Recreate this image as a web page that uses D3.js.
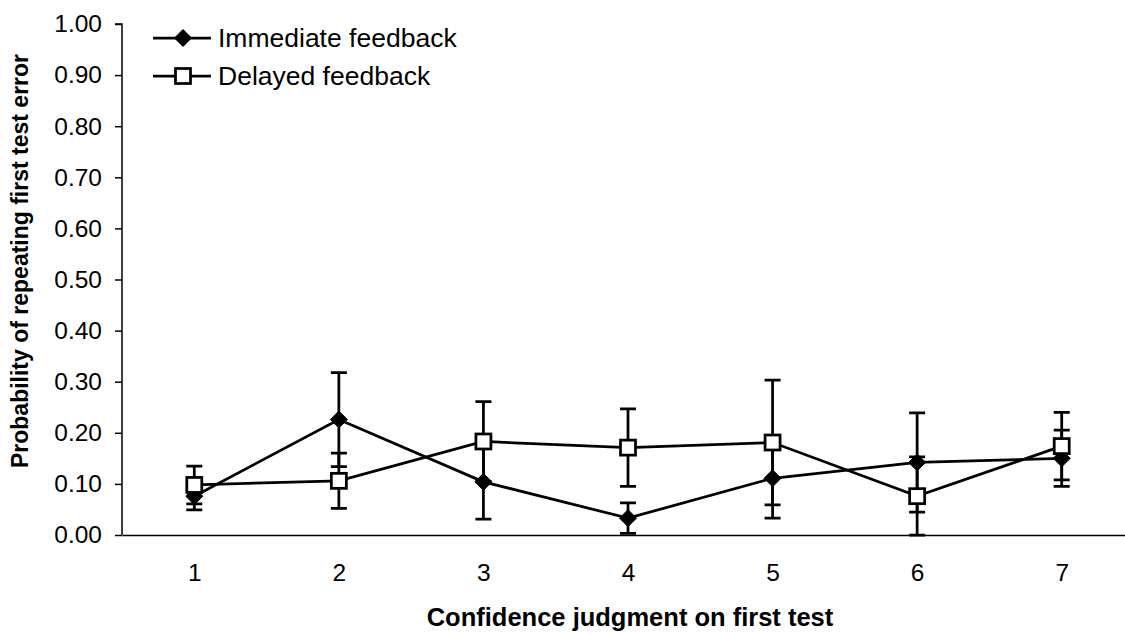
<!DOCTYPE html>
<html>
<head>
<meta charset="utf-8">
<script src="https://cdn.jsdelivr.net/npm/d3@7"></script>
<style>
  body { margin: 0; background: #fff; }
  svg text { font-family: "Liberation Sans", Arial, sans-serif; fill: #000; }
</style>
</head>
<body>
<div id="chart"></div>
<script>
const categories = [1, 2, 3, 4, 5, 6, 7];
const yTicks = [0, 0.1, 0.2, 0.3, 0.4, 0.5, 0.6, 0.7, 0.8, 0.9, 1.0];

const immediateValues = [0.076, 0.226, 0.104, 0.033, 0.111, 0.142, 0.150];
const immediateErrors = [0.027, 0.092, 0.073, 0.030, 0.078, 0.097, 0.055];

const delayedValues = [0.098, 0.106, 0.183, 0.171, 0.181, 0.076, 0.174];
const delayedErrors = [0.037, 0.054, 0.078, 0.076, 0.122, 0.077, 0.066];

const seriesNames = ["Immediate feedback", "Delayed feedback"];

const w = 1125;
const h = 634;
const m = { top: 24, right: -9, bottom: 99, left: 122 };

const svg = d3
  .select("#chart")
  .append("svg")
  .attr("width", w)
  .attr("height", h);

const x = d3
  .scalePoint()
  .domain(categories)
  .range([m.left, w - m.right])
  .padding(0.5);

const y = d3
  .scaleLinear()
  .domain([0, 1])
  .range([h - m.bottom, m.top]);

const series = [
  { name: seriesNames[0], values: immediateValues, errors: immediateErrors, marker: "diamond" },
  { name: seriesNames[1], values: delayedValues, errors: delayedErrors, marker: "square" },
];

// axes
const yaxis = d3
  .axisLeft(y)
  .tickValues(yTicks)
  .tickSize(7)
  .tickPadding(13)
  .tickFormat(d3.format(".2f"));

svg
  .append("g")
  .attr("transform", `translate(${m.left},0)`)
  .call(yaxis)
  .call((g) => g.select(".domain").attr("d", `M-7,${y(1)}H0V${y(0)}`))
  .call((g) => g.selectAll("line, path").attr("stroke", "#000").attr("stroke-width", 1.5))
  .call((g) => g.selectAll("text").attr("font-size", 24.5).attr("font-family", null));

const xaxis = d3.axisBottom(x).tickSize(0).tickPadding(29);

svg
  .append("g")
  .attr("transform", `translate(0,${y(0)})`)
  .call(xaxis)
  .call((g) => g.select(".domain").attr("stroke", "#000").attr("stroke-width", 1.5))
  .call((g) => g.selectAll("text").attr("font-size", 24.5).attr("font-family", null));

// axis titles
svg
  .append("text")
  .attr("transform", "translate(20,261) rotate(-90)")
  .attr("text-anchor", "middle")
  .attr("dy", "0.35em")
  .attr("font-size", 23)
  .attr("font-weight", "bold")
  .text("Probability of repeating first test error");

svg
  .append("text")
  .attr("x", 630)
  .attr("y", 626)
  .attr("text-anchor", "middle")
  .attr("font-size", 25.5)
  .attr("font-weight", "bold")
  .text("Confidence judgment on first test");

function drawMarker(g, type, cx, cy) {
  if (type === "diamond") {
    g.append("path")
      .attr("d", `M${cx},${cy - 8.5}L${cx + 8.5},${cy}L${cx},${cy + 8.5}L${cx - 8.5},${cy}Z`)
      .attr("fill", "#000")
      .attr("stroke", "#000")
      .attr("stroke-width", 1);
  } else {
    g.append("rect")
      .attr("x", cx - 7.5)
      .attr("y", cy - 7.5)
      .attr("width", 15)
      .attr("height", 15)
      .attr("fill", "#fff")
      .attr("stroke", "#000")
      .attr("stroke-width", 2.75);
  }
}

const line = d3
  .line()
  .x(function (d, i) {
    return x(categories[i]);
  })
  .y(function (d) {
    return y(d);
  });

series.forEach(function (s) {
  const g = svg.append("g");

  // error bars
  s.values.forEach(function (v, i) {
    const cx = x(categories[i]);
    const hi = y(v + s.errors[i]);
    const lo = y(Math.max(0, v - s.errors[i]));
    g.append("path")
      .attr("d", `M${cx},${hi}V${lo}M${cx - 8},${hi}H${cx + 8}M${cx - 8},${lo}H${cx + 8}`)
      .attr("fill", "none")
      .attr("stroke", "#000")
      .attr("stroke-width", 2.75);
  });

  g.append("path")
    .datum(s.values)
    .attr("fill", "none")
    .attr("stroke", "#000")
    .attr("stroke-width", 2.75)
    .attr("d", line);

  s.values.forEach(function (v, i) {
    drawMarker(g, s.marker, x(categories[i]), y(v));
  });
});

// legend
const legend = svg.append("g");
series.forEach(function (s, i) {
  const ly = 38 + i * 38;
  legend
    .append("line")
    .attr("x1", 153)
    .attr("x2", 211)
    .attr("y1", ly)
    .attr("y2", ly)
    .attr("stroke", "#000")
    .attr("stroke-width", 2.75);
  drawMarker(legend, s.marker, 183, ly);
  legend
    .append("text")
    .attr("x", 218)
    .attr("y", ly)
    .attr("dy", "0.35em")
    .attr("font-size", 26.5)
    .text(s.name);
});
</script>
</body>
</html>
